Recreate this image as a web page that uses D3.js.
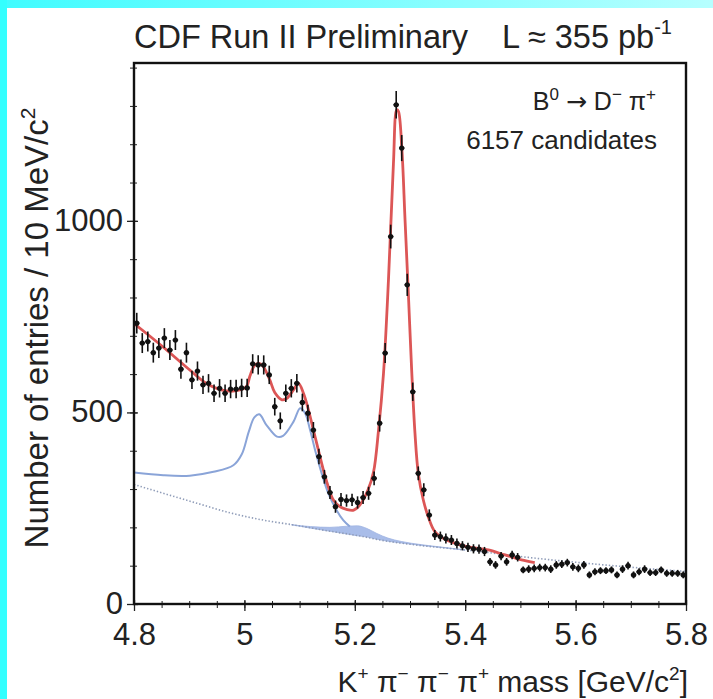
<!DOCTYPE html>
<html><head><meta charset="utf-8">
<script src="https://cdn.jsdelivr.net/npm/d3@7"></script>
<style>
html,body{margin:0;padding:0;background:#fff;}
svg{display:block;font-family:"Liberation Sans",Arial,Helvetica,sans-serif;}
</style></head>
<body>
<svg id="c" width="713" height="699"></svg>
<script>
// ---------- data ----------
const binStart = 4.8, binWidth = 0.01;
const counts = [733,681,685,656,668,694,663,689,613,656,585,608,572,576,550,563,550,561,561,564,
  564,627,624,624,598,515,478,550,563,576,526,498,454,385,332,291,254,273,270,272,
  265,278,289,328,472,655,959,1303,1190,833,554,341,298,232,180,176,171,167,158,152,
  148,144,143,137,110,102,125,110,128,122,89,91,93,95,95,91,102,104,108,97,
  93,102,76,84,87,87,89,76,91,100,76,84,91,82,82,89,80,80,80,76];
const errors = [27,26,26,26,26,26,26,26,25,26,24,25,24,24,23,24,23,24,24,24,
  24,25,25,25,24,23,22,23,24,24,23,22,21,20,18,17,16,17,16,16,
  16,17,17,18,22,26,31,36,34,29,24,18,17,15,13,13,13,13,13,12,
  12,12,12,12,10,10,11,10,11,11,9,10,10,10,10,10,10,10,10,10,
  10,10,9,9,9,9,9,9,10,10,9,9,10,9,9,9,9,9,9,9];

// total fit (red)
const fitMass = [4.800,4.850,4.900,4.932,4.968,4.990,5.004,5.010,5.019,5.027,5.034,5.046,5.055,5.068,5.077,5.089,5.098,5.107,5.116,5.125,
  5.134,5.143,5.152,5.161,5.173,5.185,5.198,5.209,5.224,5.234,5.243,5.252,5.261,5.270,5.276,5.279,5.285,5.291,5.297,5.303,
  5.309,5.315,5.324,5.333,5.345,5.366,5.403,5.442,5.472,5.502,5.526];
const fitValue = [732,674,612,575,556,558,568,595,624,628,620,585,552,533,537,559,576,550,507,454,
  402,350,306,272,254,247,245,258,298,345,454,602,846,1150,1290,1286,1194,1003,811,611,
  446,341,272,228,189,167,150,141,128,115,108];

// partially reconstructed background (blue solid)
const partMass = [4.800,4.853,4.901,4.944,4.980,4.995,5.008,5.018,5.027,5.040,5.059,5.070,5.089,5.101,5.110,5.119,5.128,5.140,5.152,5.167,5.179,5.191];
const partValue = [343,336,335,345,362,390,450,487,495,467,437,439,476,511,498,454,402,341,289,245,219,202];

// combinatorial background (dotted)
const combMass = [4.800,4.853,4.914,4.974,5.034,5.095,5.155,5.215,5.246,5.300,5.350,5.400,5.450,5.500,5.600,5.700,5.800];
const combValue = [312,289,263,238,219,205,190,176,167,156,148,141,133,124,109,96,85];

// B -> D K (shaded)
const dkMass = [5.085,5.120,5.155,5.185,5.205,5.222,5.240,5.260,5.285,5.320,5.360,5.400];
const dkTop  = [207,202,200,203,204,197,184,172,163,155,148,141];
const dkBase = [207,198,190,183,178,175,169,164,159,153,147,141];

const xTicks = [4.8,5.0,5.2,5.4,5.6,5.8];
const xTickLabels = ["4.8","5","5.2","5.4","5.6","5.8"];
const yTicks = [0,500,1000];
const yTickLabels = ["0","500","1000"];

// ---------- drawing ----------
const svg = d3.select("#c");
const L=134, R=686, T=63, B=604;
const x = d3.scaleLinear().domain([4.8,5.8]).range([L,R]);
const y = d3.scaleLinear().domain([0,1412]).range([B,T]);

// cyan borders
const defs = svg.append("defs");
const g1 = defs.append("linearGradient").attr("id","topg").attr("x1","0").attr("x2","1").attr("y1","0").attr("y2","0");
g1.append("stop").attr("offset","0").attr("stop-color","#3ffcff");
g1.append("stop").attr("offset","1").attr("stop-color","#b6ffff");
svg.append("rect").attr("x",0).attr("y",0).attr("width",713).attr("height",8).attr("fill","url(#topg)");
svg.append("rect").attr("x",0).attr("y",0).attr("width",7).attr("height",699).attr("fill","#33ffff");

const clip = defs.append("clipPath").attr("id","pc");
clip.append("rect").attr("x",L).attr("y",T).attr("width",R-L).attr("height",B-T);
const plot = svg.append("g").attr("clip-path","url(#pc)");

// shaded DK region
const dk = dkMass.map((m,i)=>({m, top:dkTop[i], base:dkBase[i]}));
plot.append("path").datum(dk)
  .attr("d", d3.area().x(d=>x(d.m)).y0(d=>y(d.base)).y1(d=>y(d.top)).curve(d3.curveMonotoneX))
  .attr("fill","#a9bde9").attr("stroke","#9fb4e2").attr("stroke-width",0.8);

// combinatorial dotted
const comb = combMass.map((m,i)=>({m, v:combValue[i]}));
plot.append("path").datum(comb)
  .attr("d", d3.line().x(d=>x(d.m)).y(d=>y(d.v)).curve(d3.curveMonotoneX))
  .attr("fill","none").attr("stroke","#8f9cb8").attr("stroke-width",1.6).attr("stroke-dasharray","1.4,2");

// partial reco (blue)
const part = partMass.map((m,i)=>({m, v:partValue[i]}));
plot.append("path").datum(part)
  .attr("d", d3.line().x(d=>x(d.m)).y(d=>y(d.v)).curve(d3.curveCatmullRom.alpha(0.5)))
  .attr("fill","none").attr("stroke","#8aa4d8").attr("stroke-width",2);

// total fit (red)
const fit = fitMass.map((m,i)=>({m, v:fitValue[i]}));
plot.append("path").datum(fit)
  .attr("d", d3.line().x(d=>x(d.m)).y(d=>y(d.v)).curve(d3.curveCatmullRom.alpha(0.5)))
  .attr("fill","none").attr("stroke","#dc5656").attr("stroke-width",2.8);

// data points
const pts = counts.map((c,i)=>({m: binStart + binWidth*(i+0.5), v:c, e:errors[i]}));
const pg = plot.append("g").selectAll("g").data(pts).join("g");
pg.append("line").attr("x1",d=>x(d.m)).attr("x2",d=>x(d.m))
  .attr("y1",d=>y(d.v-d.e)).attr("y2",d=>y(d.v+d.e)).attr("stroke","#111").attr("stroke-width",1.6);
pg.append("line").attr("x1",d=>x(d.m-binWidth*0.5)).attr("x2",d=>x(d.m+binWidth*0.5))
  .attr("y1",d=>y(d.v)).attr("y2",d=>y(d.v)).attr("stroke","#111").attr("stroke-width",1.4);
pg.append("circle").attr("cx",d=>x(d.m)).attr("cy",d=>y(d.v)).attr("r",2.6).attr("fill","#111");

// axes
const minorX = d3.range(4.8, 5.8001, 0.05);
const minorY = d3.range(0, 1401, 100);
const ax = svg.append("g").attr("transform",`translate(0,${B})`)
  .call(d3.axisBottom(x).tickValues(minorX).tickSize(4).tickFormat(""));
ax.selectAll(".tick line").attr("y1",-3).attr("stroke","#222").attr("stroke-width",1);
ax.select(".domain").remove();
const axM = svg.append("g").attr("transform",`translate(0,${B})`)
  .call(d3.axisBottom(x).tickValues(xTicks).tickSize(7).tickPadding(10).tickFormat((d,i)=>xTickLabels[i]));
axM.selectAll(".tick line").attr("y1",-4).attr("stroke","#222").attr("stroke-width",1.3);
axM.select(".domain").remove();
axM.selectAll("text").attr("font-size",31).attr("fill","#222").attr("font-family","Liberation Sans, Arial, sans-serif").attr("dy","0.78em");

const ay = svg.append("g").attr("transform",`translate(${L},0)`)
  .call(d3.axisLeft(y).tickValues(minorY).tickSize(4).tickFormat(""));
ay.selectAll(".tick line").attr("x1",3).attr("stroke","#222").attr("stroke-width",1);
ay.select(".domain").remove();
const ayM = svg.append("g").attr("transform",`translate(${L},0)`)
  .call(d3.axisLeft(y).tickValues(yTicks).tickSize(7).tickPadding(4).tickFormat((d,i)=>yTickLabels[i]));
ayM.selectAll(".tick line").attr("x1",4).attr("stroke","#222").attr("stroke-width",1.3);
ayM.select(".domain").remove();
ayM.selectAll("text").attr("font-size",31).attr("fill","#222").attr("font-family","Liberation Sans, Arial, sans-serif").attr("dy","0.30em");

// frame
svg.append("rect").attr("x",L).attr("y",T).attr("width",R-L).attr("height",B-T)
  .attr("fill","none").attr("stroke","#111").attr("stroke-width",2.4);

// texts
const txt = (xx,yy,anchor,size)=>svg.append("text").attr("x",xx).attr("y",yy).attr("text-anchor",anchor)
  .attr("font-size",size).attr("fill","#222");
txt(134,48,"start",32.5).text("CDF Run II Preliminary");
const lum = txt(502,48,"start",32.5);
lum.append("tspan").text("L \u2248 355 pb");
lum.append("tspan").attr("font-size",20).attr("dy",-14).text("-1");

const dec = txt(656,110,"end",25);
dec.append("tspan").text("B");
dec.append("tspan").attr("font-size",17).attr("dy",-10).text("0");
dec.append("tspan").attr("dy",10).text(" ");
dec.append("tspan").attr("font-family","DejaVu Sans").attr("font-size",25).text("\u2192");
dec.append("tspan").text(" D");
dec.append("tspan").attr("font-size",17).attr("dy",-10).text("\u2212");
dec.append("tspan").attr("dy",10).text(" \u03c0");
dec.append("tspan").attr("font-size",17).attr("dy",-10).text("+");
txt(657,149,"end",26).text("6157 candidates");

// y label
const yl = svg.append("text").attr("transform","translate(48,328) rotate(-90)").attr("text-anchor","middle")
  .attr("font-size",33).attr("fill","#222");
yl.append("tspan").text("Number of entries / 10 MeV/c");
yl.append("tspan").attr("font-size",21).attr("dy",-13).text("2");

// x label
const xl = txt(688,692,"end",30);
xl.append("tspan").text("K");
xl.append("tspan").attr("font-size",19).attr("dy",-12).text("+");
xl.append("tspan").attr("dy",12).text(" \u03c0");
xl.append("tspan").attr("font-size",19).attr("dy",-12).text("\u2212");
xl.append("tspan").attr("dy",12).text(" \u03c0");
xl.append("tspan").attr("font-size",19).attr("dy",-12).text("\u2212");
xl.append("tspan").attr("dy",12).text(" \u03c0");
xl.append("tspan").attr("font-size",19).attr("dy",-12).text("+");
xl.append("tspan").attr("dy",12).text(" mass [GeV/c");
xl.append("tspan").attr("font-size",19).attr("dy",-12).text("2");
xl.append("tspan").attr("dy",12).text("]");
</script>
</body></html>
